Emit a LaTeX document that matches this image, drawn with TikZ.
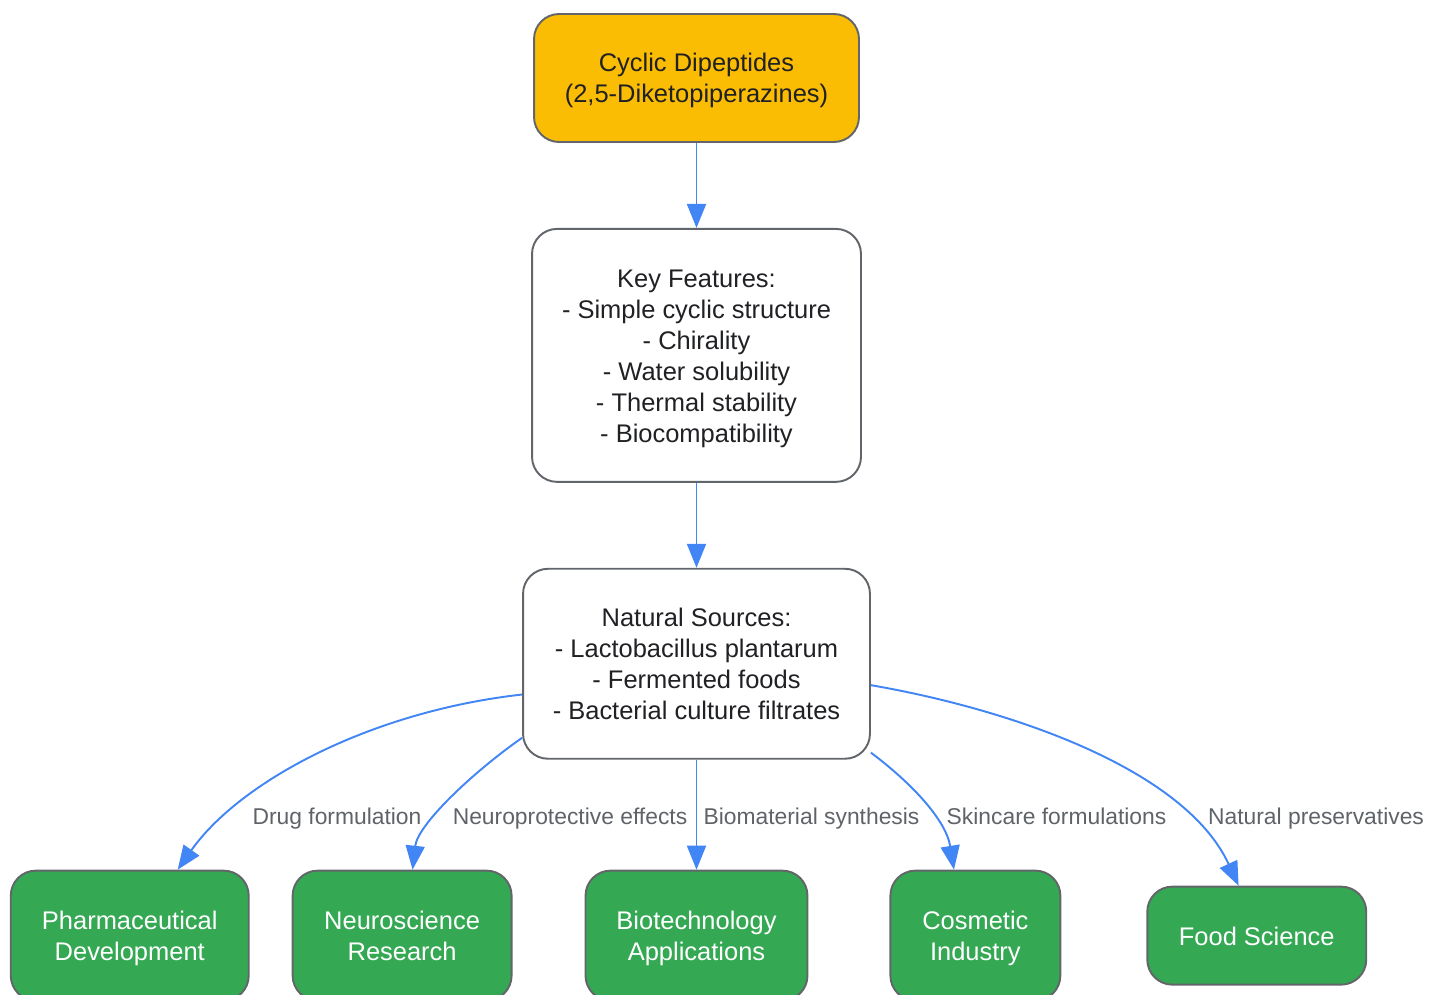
\documentclass[tikz,border=0pt]{standalone}
\usepackage{fontspec}
\setmainfont{Liberation Sans}
\usepackage{tikz}
\usetikzlibrary{arrows.meta,positioning,calc}
\definecolor{GYELLOW}{HTML}{FBBC04}
\definecolor{GGREEN}{HTML}{34A853}
\definecolor{GBLUE}{HTML}{4285F4}
\definecolor{BORDER}{HTML}{62666A}
\definecolor{DARKTEXT}{HTML}{202124}
\definecolor{LABELTEXT}{HTML}{5F6368}
\newcommand{\topstrut}[1]{\rule{0pt}{#1}}
\newcommand{\firstline}{\topstrut{16pt}}
\tikzstyle{BOX} = [rectangle, draw=BORDER, line width=1.1pt, rounded corners=0.5cm, align=center, text=DARKTEXT, font=\fontsize{14.5}{17.6}\selectfont, execute at end node=\strut]
\tikzstyle{ARROW} = [draw=GBLUE, line width=1.1pt, -{Triangle[length=0.48cm,width=0.38cm]}]

\begin{document}
\begin{tikzpicture}[x=0.02cm, y=-0.02cm]
% Define
\tikzstyle{RECTANGLE_TOP} = [BOX, fill=GYELLOW, minimum width=6.5cm, minimum height=2.56cm]
\tikzstyle{RECTANGLE_INFO} = [BOX, fill=white]
\tikzstyle{RECTANGLE_APP} = [BOX, fill=GGREEN, text=white, minimum height=2.6cm]
\tikzstyle{LABEL} = [text=LABELTEXT, font=\fontsize{13}{15.6}\selectfont, execute at begin node=\topstrut{13.4pt}, execute at end node=\strut]
\useasboundingbox (0,0) rectangle (1429,994);
% Place node
\node [RECTANGLE_TOP] (CDP) at (696.5,78) {\firstline Cyclic Dipeptides\\(2,5-Diketopiperazines)};
\node [RECTANGLE_INFO, minimum width=6.58cm, minimum height=5.06cm, below=1.7cm of CDP] (FEATURES) {\firstline Key Features:\\- Simple cyclic structure\\- Chirality\\- Water solubility\\- Thermal stability\\- Biocompatibility};
\node [RECTANGLE_INFO, minimum width=6.94cm, minimum height=3.8cm, below=1.7cm of FEATURES] (SOURCES) {\firstline Natural Sources:\\- Lactobacillus plantarum\\- Fermented foods\\- Bacterial culture filtrates};
%
\node [RECTANGLE_APP, minimum width=4.44cm, below=2.2cm of SOURCES] (BIOTECH) {\firstline Biotechnology\\Applications};
\node [RECTANGLE_APP, minimum width=4.38cm, left=1.44cm of BIOTECH] (NEURO) {\firstline Neuroscience\\Research};
\node [RECTANGLE_APP, minimum width=4.76cm, left=0.84cm of NEURO] (PHARMA) {\firstline Pharmaceutical\\Development};
\node [RECTANGLE_APP, minimum width=3.4cm, right=1.62cm of BIOTECH] (COSMETIC) {\firstline Cosmetic\\Industry};
\node [RECTANGLE_APP, minimum width=4.38cm, minimum height=1.96cm, right=1.7cm of COSMETIC] (FOOD) {\topstrut{17pt}Food Science};
% edge labels
\node [LABEL] (l_drug) at (337,817) {Drug formulation};
\node [LABEL] (l_neuro) at (570,817) {Neuroprotective effects};
\node [LABEL] (l_bio) at (811.5,817) {Biomaterial synthesis};
\node [LABEL] (l_skin) at (1056.5,817) {Skincare formulations};
\node [LABEL] (l_pres) at (1316,817) {Natural preservatives};
% LINES and ARROWS
\path [ARROW] (CDP) -- (FEATURES);
\path [ARROW] (FEATURES) -- (SOURCES);
\path [ARROW] (SOURCES) -- (BIOTECH);
%
\path [ARROW] (SOURCES.190) .. controls +(-152,17) and +(62,-88) .. (PHARMA.54);
\path [ARROW] (SOURCES.203) .. controls +(-50,35) and +(5,-45) .. (NEURO.81);
\path [ARROW] (SOURCES.333) .. controls +(40,30) and +(-8,-50) .. (COSMETIC.108);
\path [ARROW] (SOURCES.353.5) .. controls +(139,24) and +(-54,-117) .. (FOOD.110);
\end{tikzpicture}
\end{document}
